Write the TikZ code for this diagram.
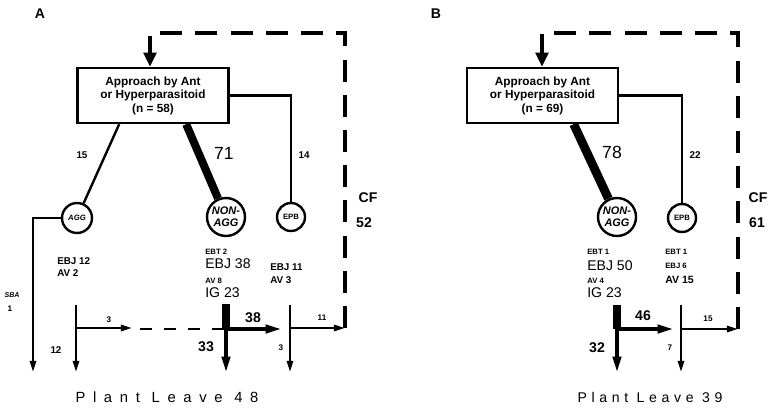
\documentclass[tikz,border=0pt]{standalone}
\usepackage{fontspec}
\setmainfont{Liberation Sans}
\usetikzlibrary{arrows.meta, positioning, calc}

\tikzset{
  approach/.style={draw=black, line width=0.06cm, minimum width=3.78cm, minimum height=1.375cm,
    align=center, inner sep=0pt, font=\fontsize{8.4}{9.6}\selectfont\bfseries},
  state/.style={draw=black, line width=0.06cm, circle, inner sep=0pt, align=center},
  link/.style={line width=0.06cm},
  flow/.style={line width=0.06cm, -{Triangle[width=4.5pt,length=8pt]}},
  bigflow/.style={line width=0.08cm, -{Triangle[width=6pt,length=11pt]}},
  feedback/.style={line width=0.08cm, dash pattern=on 0.55cm off 0.33cm},
  panel/.style={font=\fontsize{10}{12}\selectfont\bfseries},
  pathnum/.style={font=\fontsize{12.5}{14}\selectfont},
  bignum/.style={font=\fontsize{10}{12}\selectfont\bfseries},
  num/.style={font=\fontsize{7}{8}\selectfont\bfseries},
  tinynum/.style={font=\fontsize{5.8}{7}\selectfont\bfseries},
  statbig/.style={anchor=base west, inner sep=0pt, font=\fontsize{10}{12}\selectfont},
  stat/.style={anchor=base west, inner sep=0pt, font=\fontsize{7}{8}\selectfont\bfseries},
  statsmall/.style={anchor=base west, inner sep=0pt, font=\fontsize{5.5}{7}\selectfont\bfseries},
}

\begin{document}
\begin{tikzpicture}[x=0.025cm, y=-0.025cm]
\useasboundingbox (0,0) rectangle (770,413);

% --- Panel A ---
\begin{scope}
  \node[panel] (labA) at (40,14) {A};
  \node[approach] (boxA) at (153,95.5) {Approach by Ant\\or Hyperparasitoid\\(n = 58)};

  \node[state, minimum size=0.75cm, font=\fontsize{5.5}{6}\selectfont\bfseries\itshape] (aggA) at (77,218) {AGG};
  \node[state, minimum size=0.95cm, font=\fontsize{7.8}{8.6}\selectfont\bfseries\itshape] (nonaggA) at (226,217) {NON-\\AGG};
  \node[state, minimum size=0.7cm, font=\fontsize{5.5}{6}\selectfont\bfseries] (epbA) at (291,217) {EPB};

  % box to states
  \draw[link] ($(boxA.south west)+(43,0)$) -- (aggA);
  \draw[line width=0.2cm] ($(boxA.south west)+(110,0)$) -- (nonaggA);
  \draw[link] (boxA.east) -| (epbA);
  \node[num] (n15A) at (82,155) {15};
  \node[pathnum] (n71A) at (224,153) {71};
  \node[num] (n14A) at (304,155) {14};

  % stats under the states
  \node[stat] (ebjAggA) at (57,264) {EBJ 12};
  \node[stat] (avAggA) at (57,276) {AV 2};
  \node[statsmall] (ebtNaA) at (205,255) {EBT 2};
  \node[statbig] (ebjNaA) at (205,269) {EBJ 38};
  \node[statsmall] (avNaA) at (205,283) {AV 8};
  \node[statbig] (igNaA) at (205,298) {IG 23};
  \node[stat] (ebjEpA) at (270,270) {EBJ 11};
  \node[stat] (avEpA) at (270,283) {AV 3};

  % SBA
  \coordinate (sbaEndA) at (33,372);
  \draw[flow] (aggA.west) -| (sbaEndA);
  \node[font=\fontsize{5}{6}\selectfont\bfseries\itshape] (sbaA) at (12,295) {SBA};
  \node[tinynum] (n1A) at (10,309) {1};

  % AGG outcome
  \coordinate (aggTopA) at (76,305);
  \coordinate (aggJA) at (76,328);
  \coordinate (aggEndA) at (76,372);
  \coordinate (aggOutA) at (132,328);
  \draw[flow] (aggTopA) -- (aggEndA);
  \draw[flow] (aggJA) -- (aggOutA);
  \node[tinynum] (n3A) at (109,320) {3};
  \node[num] (n12A) at (56,350) {12};

  % NON-AGG outcome
  \coordinate (naTopA) at (226,304);
  \coordinate (naJA) at (226,329);
  \coordinate (naEndA) at (226,372);
  \coordinate (naOutA) at (281,329);
  \coordinate (gapA) at (140,329);
  \draw[link, dash pattern=on 0.3cm off 0.3cm] (gapA) -- (naJA);
  \draw[line width=0.2cm] (naTopA) -- (naJA);
  \draw[bigflow] (naJA) -- (naEndA);
  \draw[bigflow] (naJA) -- (naOutA);
  \node[bignum] (n38A) at (253,318) {38};
  \node[bignum] (n33A) at (206,347) {33};

  % EPB outcome and feedback
  \coordinate (epTopA) at (290,305);
  \coordinate (epJA) at (290,328);
  \coordinate (epEndA) at (290,372);
  \coordinate (fbA) at (345,328);
  \coordinate (topA) at (150,33);
  \draw[flow] (epTopA) -- (epEndA);
  \draw[flow] (epJA) -- (fbA);
  \draw[feedback, -{Triangle[width=9pt,length=10pt]}] (fbA) |- (topA) -- (boxA.north -| topA);
  \node[tinynum] (n11A) at (322,318) {11};
  \node[tinynum] (n3bA) at (281,348) {3};
  \node[bignum] (cfA) at (368,198) {CF};
  \node[bignum] (n52A) at (364,223) {52};

  \node[font=\fontsize{10.5}{12}\selectfont\addfontfeatures{LetterSpace=52}] (leaveA) at (167,397) {Plant Leave 48};
\end{scope}

% --- Panel B ---
\begin{scope}[shift={(390,0)}]
  \node[panel] (labB) at (46,14) {B};
  \node[approach] (boxB) at (152.5,95.5) {Approach by Ant\\or Hyperparasitoid\\(n = 69)};

  \node[state, minimum size=0.95cm, font=\fontsize{7.8}{8.6}\selectfont\bfseries\itshape] (nonaggB) at (227,217) {NON-\\AGG};
  \node[state, minimum size=0.7cm, font=\fontsize{5.5}{6}\selectfont\bfseries] (epbB) at (292,218) {EPB};

  % box to states
  \draw[line width=0.22cm] ($(boxB.south west)+(108,0)$) -- (nonaggB);
  \draw[link] (boxB.east) -| (epbB);
  \node[pathnum] (n78B) at (222,152) {78};
  \node[num] (n22B) at (305,155) {22};

  % stats under the states
  \node[statsmall] (ebtNaB) at (197,255) {EBT 1};
  \node[statbig] (ebjNaB) at (197,270) {EBJ 50};
  \node[statsmall] (avNaB) at (197,283) {AV 4};
  \node[statbig] (igNaB) at (197,298) {IG 23};
  \node[statsmall] (ebtEpB) at (275,255) {EBT 1};
  \node[statsmall] (ebjEpB) at (275,268) {EBJ 6};
  \node[stat, font=\fontsize{7.5}{9}\selectfont\bfseries] (avEpB) at (275,283) {AV 15};

  % NON-AGG outcome
  \coordinate (naTopB) at (227,305);
  \coordinate (naJB) at (227,329);
  \coordinate (naEndB) at (227,372);
  \coordinate (naOutB) at (283,329);
  \draw[line width=0.2cm] (naTopB) -- (naJB);
  \draw[bigflow] (naJB) -- (naEndB);
  \draw[bigflow] (naJB) -- (naOutB);
  \node[bignum] (n46B) at (253,316) {46};
  \node[bignum] (n32B) at (207,348) {32};

  % EPB outcome and feedback
  \coordinate (epTopB) at (291,305);
  \coordinate (epJB) at (291,329);
  \coordinate (epEndB) at (291,372);
  \coordinate (fbB) at (348,329);
  \coordinate (topB) at (152,33);
  \draw[flow] (epTopB) -- (epEndB);
  \draw[flow] (epJB) -- (fbB);
  \draw[feedback, -{Triangle[width=9pt,length=10pt]}] (fbB) |- (topB) -- (boxB.north -| topB);
  \node[tinynum] (n15B) at (318,319) {15};
  \node[tinynum] (n7B) at (280,348) {7};
  \node[bignum] (cfB) at (368,198) {CF};
  \node[bignum] (n61B) at (367,223) {61};

  \node[font=\fontsize{10}{12}\selectfont\addfontfeatures{LetterSpace=33}] (leaveB) at (260,397) {Plant Leave 39};
\end{scope}
\end{tikzpicture}
\end{document}
